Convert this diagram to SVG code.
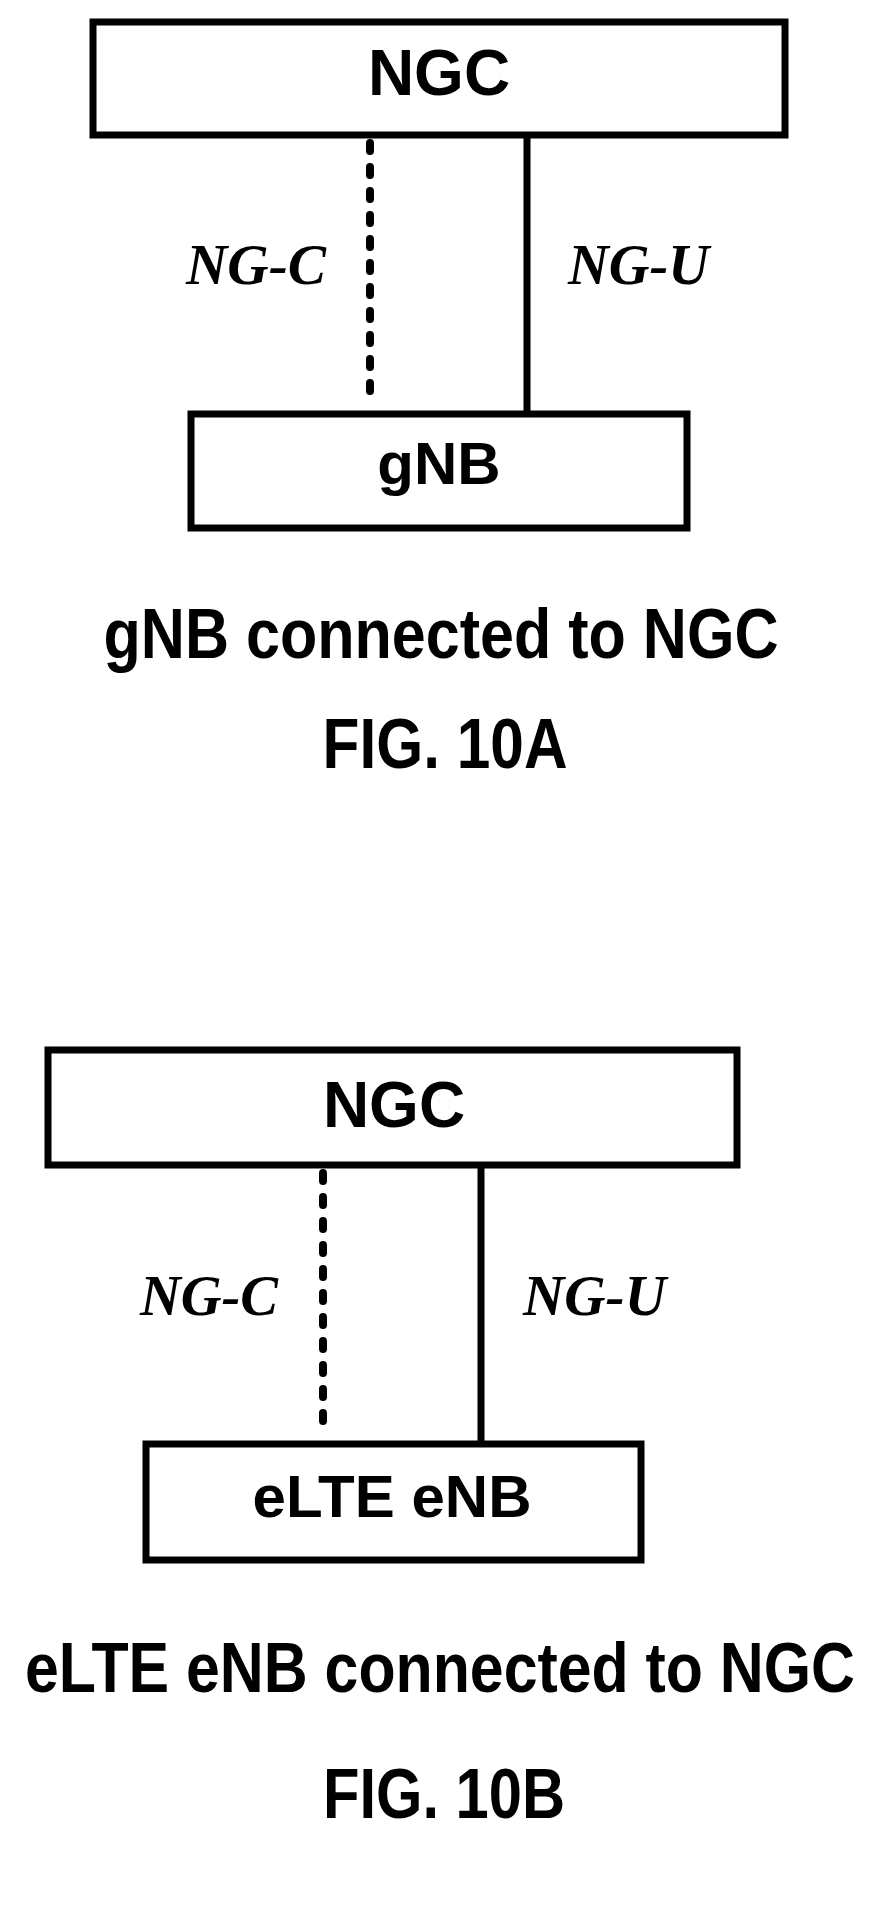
<svg xmlns="http://www.w3.org/2000/svg" width="878" height="1913" viewBox="0 0 878 1913">
<style>
.box{fill:#fff;stroke:#000;stroke-width:7}
.t{font-family:"Liberation Sans",Arial,sans-serif;font-weight:bold;text-anchor:middle;fill:#000}
.l{font-family:"Liberation Serif","Times New Roman",serif;font-weight:bold;font-style:italic;font-size:58px;fill:#000}
.c{stroke:#000;stroke-width:7;fill:none}
.d{stroke-width:8;stroke-dasharray:8 16;stroke-linecap:round}
</style>
<rect width="878" height="1913" fill="#fff"/>
<g id="connectors">
<line class="c d" x1="370" y1="143" x2="370" y2="405"/>
<line class="c" x1="527" y1="135" x2="527" y2="414"/>
<line class="c d" x1="323" y1="1173" x2="323" y2="1436"/>
<line class="c" x1="481" y1="1165" x2="481" y2="1444"/>
</g>
<g id="ngc-a"><rect class="box" x="93" y="22" width="692" height="113"/><text class="t" x="439" y="95" font-size="64">NGC</text></g>
<g id="gnb"><rect class="box" x="191" y="414" width="496" height="114"/><text class="t" x="439" y="484" font-size="60">gNB</text></g>
<text class="l" x="186" y="284" textLength="140" lengthAdjust="spacingAndGlyphs">NG-C</text>
<text class="l" x="568" y="284" textLength="141" lengthAdjust="spacingAndGlyphs">NG-U</text>
<text class="t" x="441" y="658" font-size="70" textLength="675" lengthAdjust="spacingAndGlyphs">gNB connected to NGC</text>
<text class="t" x="445" y="768" font-size="70" textLength="245" lengthAdjust="spacingAndGlyphs">FIG. 10A</text>
<g id="ngc-b"><rect class="box" x="48" y="1050" width="689" height="115"/><text class="t" x="394" y="1127" font-size="64">NGC</text></g>
<g id="elte"><rect class="box" x="146" y="1444" width="495" height="116"/><text class="t" x="392" y="1517" font-size="60">eLTE eNB</text></g>
<text class="l" x="140" y="1315" textLength="138" lengthAdjust="spacingAndGlyphs">NG-C</text>
<text class="l" x="523" y="1315" textLength="143" lengthAdjust="spacingAndGlyphs">NG-U</text>
<text class="t" x="440" y="1692" font-size="70" textLength="830" lengthAdjust="spacingAndGlyphs">eLTE eNB connected to NGC</text>
<text class="t" x="444" y="1818" font-size="70" textLength="242" lengthAdjust="spacingAndGlyphs">FIG. 10B</text>
</svg>
